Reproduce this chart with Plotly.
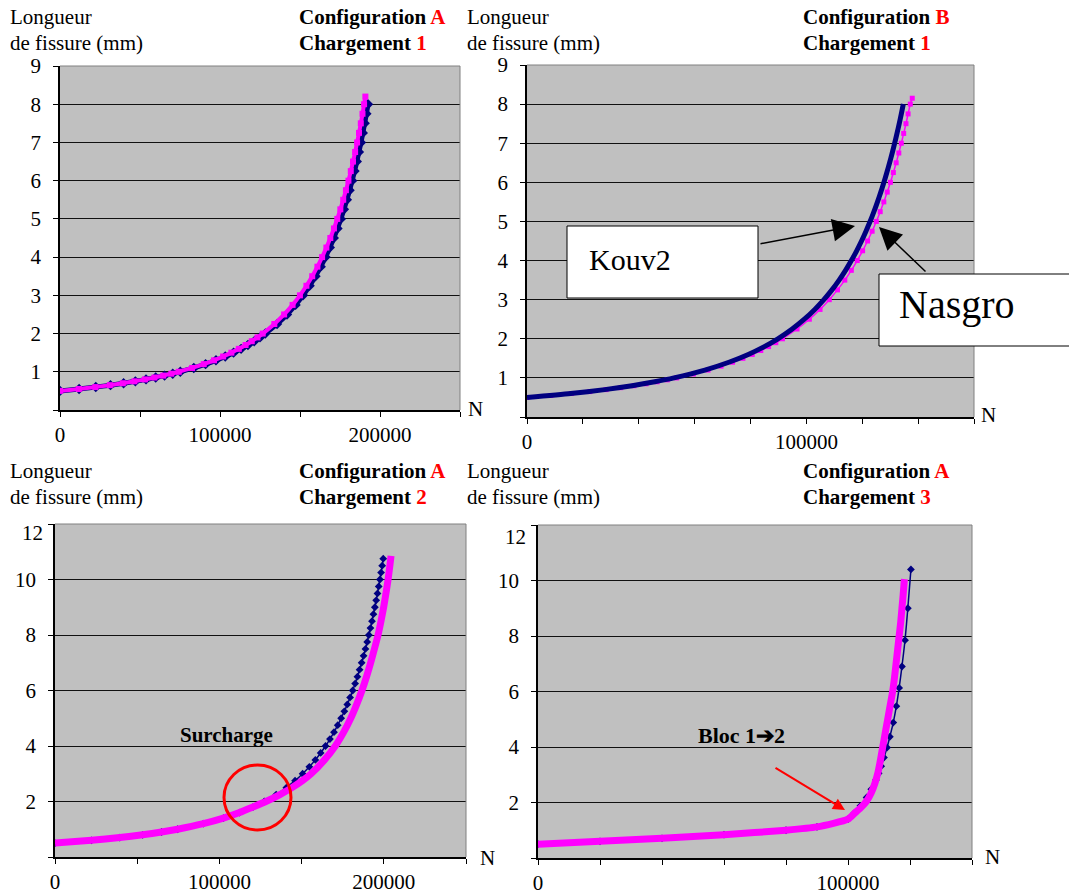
import plotly.graph_objects as go

W, H = 1069, 895
FONT = "Liberation Serif, Times New Roman, serif"
NAVY = "#000080"
MAG = "#FF00FF"

# ---------------- DATA ----------------
# Panel 1 : Configuration A, Chargement 1
p1_kouv_a = [0.5, 0.55, 0.6, 0.65, 0.7, 0.75, 0.8, 0.85, 0.9, 0.95, 1.0, 1.1, 1.2, 1.3, 1.4, 1.5,
             1.6, 1.7, 1.8, 1.9, 2.0, 2.25, 2.5, 2.75, 3.0, 3.25, 3.5, 3.75, 4.0, 4.25, 4.5, 4.75,
             5.0, 5.25, 5.5, 5.75, 6.0, 6.25, 6.5, 6.75, 7.0, 7.25, 7.5, 7.75, 8.0]
p1_kouv_N = [0, 11940, 22360, 31560, 39750, 47100, 53760, 59800, 65360, 70460, 75180, 83620,
             90990, 97480, 103270, 108480, 113180, 117470, 121390, 125000, 128340, 135670,
             141880, 147230, 151880, 156000, 159670, 162950, 165930, 168630, 171120, 173410,
             175510, 177470, 179290, 180990, 182590, 184080, 185490, 186820, 188070, 189270,
             190410, 191480, 192500]
p1_nas_a = [0.5, 0.55, 0.6, 0.65, 0.7, 0.75, 0.8, 0.85, 0.9, 0.95, 1.0, 1.1, 1.2, 1.3, 1.4, 1.5,
            1.6, 1.7, 1.8, 1.9, 2.0, 2.25, 2.5, 2.75, 3.0, 3.25, 3.5, 3.75, 4.0, 4.25, 4.5, 4.75,
            5.0, 5.25, 5.5, 5.75, 6.0, 6.25, 6.5, 6.75, 7.0, 7.25, 7.5, 7.75, 8.0, 8.2]
p1_nas_N = [0, 11790, 22080, 31160, 39240, 46500, 53080, 59050, 64530, 69570, 74220, 82560,
            89830, 96250, 101960, 107110, 111750, 115980, 119850, 123420, 126710, 133950,
            140080, 145370, 149950, 154020, 157640, 160890, 163820, 166490, 168950, 171210,
            173290, 175220, 177010, 178700, 180280, 181740, 183140, 184450, 185690, 186870,
            188000, 189060, 190060, 190850]

# Panel 2 : Configuration B, Chargement 1
p2_kouv_a = [0.5, 0.6, 0.7, 0.8, 0.9, 1.0, 1.2, 1.4, 1.6, 1.8, 2.0, 2.25, 2.5, 2.75, 3.0, 3.25,
             3.5, 3.75, 4.0, 4.25, 4.5, 4.75, 5.0, 5.25, 5.5, 5.75, 6.0, 6.25, 6.5, 6.75, 7.0,
             7.25, 7.5, 7.75, 8.0]
p2_kouv_N = [0, 15650, 27810, 37620, 45730, 52600, 63670, 72260, 79200, 84940, 89800, 94930,
             99280, 103020, 106270, 109160, 111720, 114020, 116100, 118000, 119740, 121340,
             122810, 124180, 125450, 126640, 127760, 128800, 129790, 130720, 131600, 132440,
             133240, 133990, 134700]
p2_nas_a = [0.5, 0.55, 0.6, 0.65, 0.7, 0.75, 0.8, 0.85, 0.9, 0.95, 1.0, 1.1, 1.2, 1.3, 1.4, 1.5,
            1.6, 1.7, 1.8, 1.9, 2.0, 2.25, 2.5, 2.75, 3.0, 3.25, 3.5, 3.75, 4.0, 4.25, 4.5, 4.75,
            5.0, 5.25, 5.5, 5.75, 6.0, 6.25, 6.5, 6.75, 7.0, 7.25, 7.5, 7.75, 8.0, 8.15]
p2_nas_N = [0, 8510, 15930, 22490, 28320, 33550, 38300, 42600, 46560, 50190, 53560, 59570,
            64820, 69450, 73570, 77280, 80630, 83680, 86480, 89050, 91430, 96650, 101070,
            104890, 108200, 111130, 113750, 116090, 118210, 120130, 121900, 123530, 125030,
            126430, 127720, 128940, 130080, 131140, 132140, 133090, 133980, 134830, 135650,
            136410, 137200, 137900]

# Panel 3 : Configuration A, Chargement 2 (surcharge)
p3_kouv_a = [0.5, 0.6, 0.7, 0.8, 0.9, 1.0, 1.2, 1.4, 1.6, 1.8, 2.0, 2.25, 2.5, 2.75, 3.0, 3.25,
             3.5, 3.75, 4.0, 4.25, 4.5, 4.75, 5.0, 5.25, 5.5, 5.75, 6.0, 6.25, 6.5, 6.75, 7.0,
             7.25, 7.5, 7.75, 8.0, 8.25, 8.5, 8.75, 9.0, 9.25, 9.5, 9.75, 10.0, 10.25, 10.5, 10.75]
p3_kouv_N = [0, 22180, 39420, 53320, 64820, 74560, 90230, 102420, 112250, 120380, 127280,
             134550, 140710, 146020, 150620, 154710, 158350, 161600, 164560, 167240, 169700,
             171970, 174060, 176000, 177800, 179500, 181080, 182560, 183960, 185270, 186520,
             187700, 188840, 189900, 190910, 191880, 192820, 193700, 194560, 195370, 196160,
             196900, 197640, 198340, 199010, 199660]
p3_nas_a = [0.5, 0.6, 0.7, 0.8, 0.9, 1.0, 1.2, 1.4, 1.6, 1.8, 2.0, 2.25, 2.5, 2.75, 3.0, 3.5,
            4.0, 4.5, 5.0, 5.5, 6.0, 6.5, 7.0, 7.5, 8.0, 8.5, 9.0, 9.5, 10.0, 10.5, 10.85]
p3_nas_N = [0, 22180, 39420, 53320, 64820, 74560, 90230, 102420, 112250, 120380, 128300,
            136800, 144200, 150500, 155800, 163900, 170500, 175600, 179900, 183500, 186700,
            189500, 192000, 194300, 196500, 198300, 199900, 201300, 202600, 203700, 204400]

# Panel 4 : Configuration A, Chargement 3 (bloc 1 -> 2)
p4_kouv_N = [0, 20000, 40000, 60000, 80000, 90000, 100000, 102000, 104000, 106000, 107500,
             109000, 109900, 110700, 111600, 112600, 113500, 114600, 115600, 116500, 117400,
             118400, 119300, 120300]
p4_kouv_a = [0.50, 0.60, 0.71, 0.84, 1.00, 1.12, 1.40, 1.62, 1.88, 2.18, 2.48,
             2.81, 3.05, 3.31, 3.62, 3.98, 4.37, 4.88, 5.47, 6.13, 6.90,
             7.85, 9.00, 10.40]
p4_nas_N = [0, 20000, 40000, 60000, 80000, 90000, 100000, 102000, 104000, 106000, 107500,
            108700, 109700, 110500, 111200, 112000, 112800, 113600, 114400, 115000, 115500,
            116000, 116500, 117000, 117400, 117800, 118200]
p4_nas_a = [0.50, 0.60, 0.71, 0.84, 1.00, 1.12, 1.40, 1.60, 1.80, 2.05, 2.35,
            2.70, 3.10, 3.55, 4.00, 4.50, 5.00, 5.50, 6.00, 6.50, 7.00,
            7.50, 8.00, 8.50, 9.00, 9.50, 10.05]

# axis ticks
ticks_250k = [0, 50000, 100000, 150000, 200000, 250000]
ticks_160k = [0, 20000, 40000, 60000, 80000, 100000, 120000, 140000, 160000]
ticks_140k = [0, 20000, 40000, 60000, 80000, 100000, 120000, 140000]
yticks_9 = [0, 1, 2, 3, 4, 5, 6, 7, 8, 9]
yticks_12 = [0, 2, 4, 6, 8, 10, 12]


# ---------------- FIGURE ----------------
def px(x):
    return x / W


def py(y):
    return 1 - y / H


fig = go.Figure()

# plot areas in pixels: (left, right, top, bottom)
areas = {
    1: (60, 460, 66, 410),
    2: (527, 974, 65, 417),
    3: (55, 466, 524, 857),
    4: (538, 972, 525, 858),
}


def xlabels(vals, show):
    return [str(v) if v in show else "" for v in vals]


def ylabels(vals, top_hidden=False):
    out = ["" if v == 0 else str(v) for v in vals]
    if top_hidden:
        out[-1] = ""
    return out


xcfg = {
    1: (250000, ticks_250k, xlabels(ticks_250k, [0, 100000, 200000])),
    2: (160000, ticks_160k, xlabels(ticks_160k, [0, 100000])),
    3: (250000, ticks_250k, xlabels(ticks_250k, [0, 100000, 200000])),
    4: (140000, ticks_140k, xlabels(ticks_140k, [0, 100000])),
}
ycfg = {
    1: (9, yticks_9, ylabels(yticks_9)),
    2: (9, yticks_9, ylabels(yticks_9)),
    3: (12, yticks_12, ylabels(yticks_12, True)),
    4: (12, yticks_12, ylabels(yticks_12, True)),
}

layout_axes = {}
for i in range(1, 5):
    l, r, t, b = areas[i]
    xmax, xt, xtt = xcfg[i]
    ymax, yt, ytt = ycfg[i]
    xa = "xaxis" if i == 1 else f"xaxis{i}"
    ya = "yaxis" if i == 1 else f"yaxis{i}"
    layout_axes[xa] = dict(
        domain=[px(l), px(r)], anchor="y" if i == 1 else f"y{i}", automargin=False,
        range=[0, xmax], tickvals=xt, ticktext=xtt, showgrid=False, zeroline=False,
        showline=True, linecolor="black", linewidth=1.5, ticks="outside", ticklen=5,
        tickcolor="black", tickwidth=1, tickfont=dict(family=FONT, size=21, color="black"),
        ticklabelstandoff=0,
    )
    layout_axes[ya] = dict(
        domain=[py(b), py(t)], anchor="x" if i == 1 else f"x{i}", automargin=False,
        range=[0, ymax], tickvals=yt, ticktext=ytt, showgrid=True,
        gridcolor="#111111", gridwidth=1, zeroline=False,
        showline=True, linecolor="black", linewidth=1.5, ticks="outside", ticklen=5,
        tickcolor="black", tickwidth=1, tickfont=dict(family=FONT, size=21, color="black"),
        ticklabelstandoff=8,
    )

fig.update_layout(**layout_axes)


def add(N, a, i, color, mode, lw, sym=None, ms=0):
    xa = "x" if i == 1 else f"x{i}"
    ya = "y" if i == 1 else f"y{i}"
    kw = dict(x=N, y=a, xaxis=xa, yaxis=ya, mode=mode, showlegend=False,
              line=dict(color=color, width=lw, shape="spline", smoothing=0.6), hoverinfo="skip")
    if sym:
        kw["marker"] = dict(symbol=sym, size=ms, color=color, line=dict(width=0))
    fig.add_trace(go.Scatter(**kw))


add(p1_kouv_N, p1_kouv_a, 1, NAVY, "lines+markers", 5, "diamond", 8)
add(p1_nas_N, p1_nas_a, 1, MAG, "lines+markers", 4, "square", 6)

add(p2_nas_N, p2_nas_a, 2, MAG, "lines+markers", 1.5, "square", 5)
add(p2_kouv_N, p2_kouv_a, 2, NAVY, "lines", 5)

add(p3_kouv_N, p3_kouv_a, 3, NAVY, "lines+markers", 1.5, "diamond", 6)
add(p3_nas_N, p3_nas_a, 3, MAG, "lines", 7)

add(p4_kouv_N, p4_kouv_a, 4, NAVY, "lines+markers", 1.5, "diamond", 6)
add(p4_nas_N, p4_nas_a, 4, MAG, "lines", 7)

shapes = []
# gray top/right borders of plot areas
for i in range(1, 5):
    l, r, t, b = areas[i]
    shapes.append(dict(type="line", xref="paper", yref="paper", x0=px(l), x1=px(r), y0=py(t), y1=py(t),
                       line=dict(color="#808080", width=1)))
    shapes.append(dict(type="line", xref="paper", yref="paper", x0=px(r), x1=px(r), y0=py(t), y1=py(b),
                       line=dict(color="#808080", width=1)))

# label boxes (panel 2)
shapes.append(dict(type="rect", xref="paper", yref="paper", x0=px(567), x1=px(758), y0=py(298), y1=py(226),
                   fillcolor="white", line=dict(color="black", width=1)))
shapes.append(dict(type="rect", xref="paper", yref="paper", x0=px(879), x1=px(1085), y0=py(346), y1=py(274),
                   fillcolor="white", line=dict(color="black", width=1)))
# red circle (panel 3)
shapes.append(dict(type="circle", xref="paper", yref="paper", x0=px(224), x1=px(291), y0=py(830), y1=py(765),
                   line=dict(color="#FF0000", width=3)))
fig.update_layout(shapes=shapes)

ann = []


def text(x, y, s, size=21, xanchor="left"):
    ann.append(dict(x=px(x), y=py(y), xref="paper", yref="paper", text=s, showarrow=False,
                    xanchor=xanchor, yanchor="middle", font=dict(family=FONT, size=size, color="black")))


RED = "<span style='color:#FF0000'>%s</span>"
for (lx, ty, rx, conf, charg) in [(8, 17, 297, "A", "1"), (465, 17, 801, "B", "1"),
                                   (8, 471, 297, "A", "2"), (465, 471, 801, "A", "3")]:
    text(lx, ty, "Longueur")
    text(lx, ty + 26, "de fissure (mm)")
    text(rx, ty, "<b>Configuration " + RED % conf + "</b>")
    text(rx, ty + 26, "<b>Chargement " + RED % charg + "</b>")

# top "12" labels sit a little below their tick, as in the original
text(45, 533, "12", xanchor="right")
text(528, 537, "12", xanchor="right")

# N labels
text(475, 409, "N", xanchor="center")
text(988, 415, "N", xanchor="center")
text(487, 858, "N", xanchor="center")
text(992, 857, "N", xanchor="center")

# box texts
text(587, 259, "Kouv2", size=30)
text(897, 305, "Nasgro", size=40)

text(226, 735, "<b>Surcharge</b>", size=21, xanchor="center")
text(741, 735, "<b>Bloc 1➔2</b>", size=22, xanchor="center")


def arrow(tail, tip, color, width, size, head=2):
    ann.append(dict(x=px(tip[0]), y=py(tip[1]), xref="paper", yref="paper", text="",
                    showarrow=True, ax=tail[0] - tip[0], ay=tail[1] - tip[1],
                    arrowhead=head, arrowsize=size, arrowwidth=width, arrowcolor=color))


arrow((759, 244), (855, 226), "black", 1.5, 3)
arrow((927, 273), (879, 227), "black", 1.5, 3)
arrow((774, 767), (845, 810), "#FF0000", 2, 1.2)

fig.update_layout(annotations=ann)

fig.update_layout(
    width=W, height=H, autosize=False,
    margin=dict(l=0, r=0, t=0, b=0, pad=0, autoexpand=False),
    paper_bgcolor="white", plot_bgcolor="#C0C0C0",
    showlegend=False,
)

post = ("document.body.style.margin='0';document.body.style.padding='0';"
        "document.body.style.overflow='hidden';")
fig.write_html("out.html", config={"displayModeBar": False}, post_script=post)
